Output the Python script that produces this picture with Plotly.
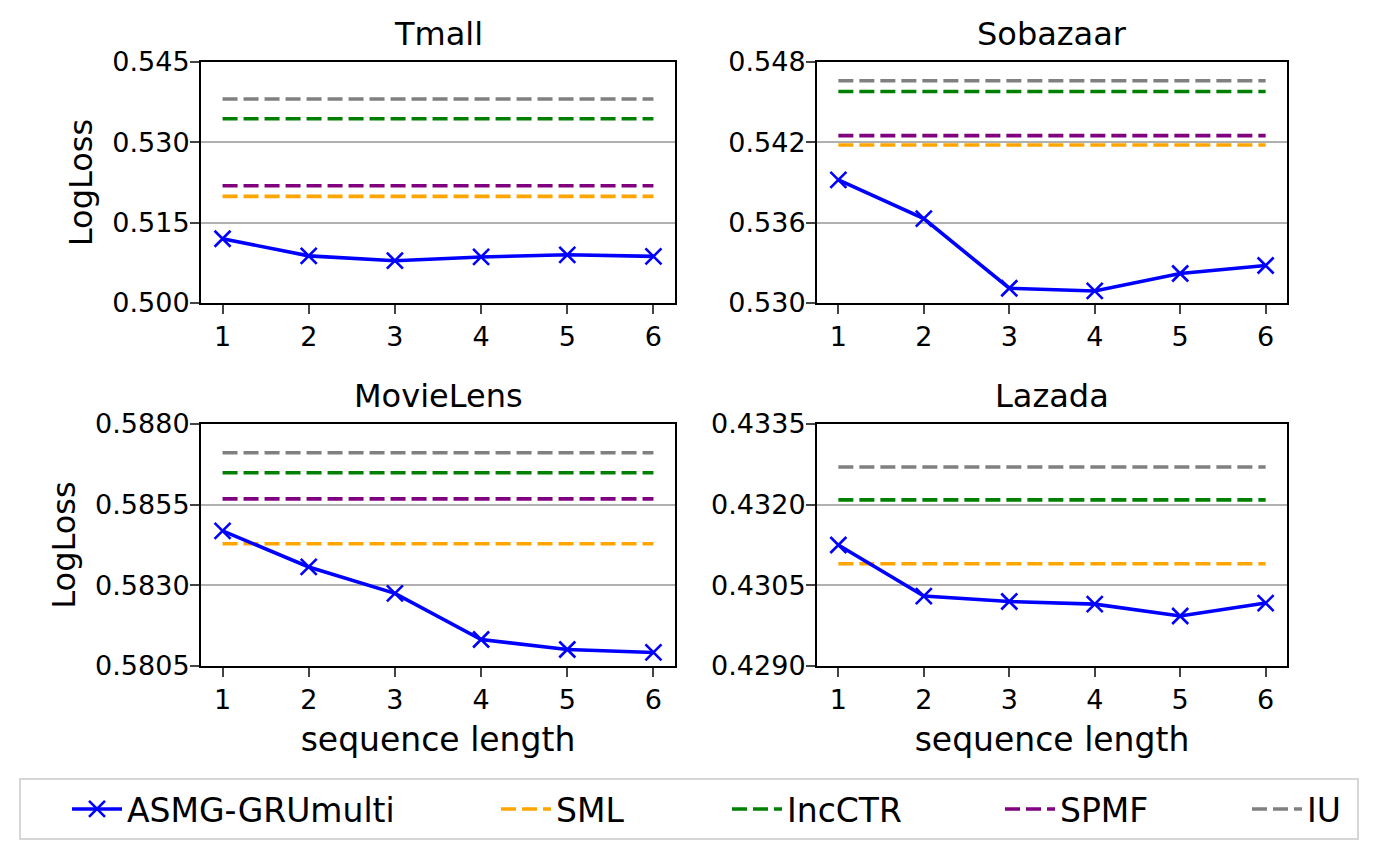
import plotly.graph_objects as go

seq_len = [1, 2, 3, 4, 5, 6]
datasets = ["Tmall", "Sobazaar", "MovieLens", "Lazada"]
series_names = ["ASMG-GRUmulti", "SML", "IncCTR", "SPMF", "IU"]
colors = ["blue", "orange", "green", "purple", "gray"]

# ASMG-GRUmulti LogLoss per dataset
asmg_tmall = [0.5120, 0.5088, 0.5079, 0.5086, 0.5090, 0.5087]
asmg_sobazaar = [0.5392, 0.5363, 0.5311, 0.5309, 0.5322, 0.5328]
asmg_movielens = [0.58469, 0.58357, 0.58275, 0.58132, 0.58101, 0.58092]
asmg_lazada = [0.43125, 0.43030, 0.43020, 0.43015, 0.42993, 0.43017]

# baselines (constant over sequence length): SML, IncCTR, SPMF, IU
base_tmall = [0.5199, 0.5344, 0.5219, 0.5381]
base_sobazaar = [0.5418, 0.5458, 0.5425, 0.5466]
base_movielens = [0.58429, 0.58649, 0.58568, 0.58711]
base_lazada = [0.4309, 0.43209, 0.43400, 0.43270]

y_ticks = {
    "Tmall": [0.500, 0.515, 0.530, 0.545],
    "Sobazaar": [0.530, 0.536, 0.542, 0.548],
    "MovieLens": [0.5805, 0.5830, 0.5855, 0.5880],
    "Lazada": [0.4290, 0.4305, 0.4320, 0.4335],
}
tick_fmt = {"Tmall": ".3f", "Sobazaar": ".3f", "MovieLens": ".4f", "Lazada": ".4f"}

asmg = {"Tmall": asmg_tmall, "Sobazaar": asmg_sobazaar,
        "MovieLens": asmg_movielens, "Lazada": asmg_lazada}
base = {"Tmall": base_tmall, "Sobazaar": base_sobazaar,
        "MovieLens": base_movielens, "Lazada": base_lazada}

W, H = 1378, 859
OFF = 8  # page body margin
FONT = "DejaVu Sans"


def px(v):
    return (v - OFF) / W


def py(v):
    return 1 - (v - OFF) / H


# pixel layout of panels (left, right, top, bottom)
panels = {
    "Tmall": (201, 675, 62, 303),
    "Sobazaar": (817, 1287, 62, 303),
    "MovieLens": (201, 675, 424, 666),
    "Lazada": (817, 1287, 424, 666),
}

fig = go.Figure()
layout = dict(
    width=W, height=H, template="none",
    margin=dict(l=0, r=0, t=0, b=0),
    paper_bgcolor="white", plot_bgcolor="white",
    font=dict(family=FONT, color="black"),
    showlegend=True,
)
annotations = []
shapes = []

for i, name in enumerate(datasets):
    l, r, t, b = panels[name]
    sfx = "" if i == 0 else str(i + 1)
    xa, ya = "x" + sfx, "y" + sfx
    for j in range(4):
        fig.add_trace(go.Scatter(
            x=seq_len, y=[base[name][j]] * len(seq_len),
            mode="lines", name=series_names[j + 1],
            line=dict(color=colors[j + 1], width=3.6, dash="15px,6px"),
            xaxis=xa, yaxis=ya, showlegend=(i == 0),
            legend="legend" + str(j + 2),
        ))
    fig.add_trace(go.Scatter(
        x=seq_len, y=asmg[name], mode="lines+markers", name=series_names[0],
        line=dict(color="blue", width=3.6),
        marker=dict(symbol="x-thin", size=16, line=dict(color="blue", width=2.6)),
        xaxis=xa, yaxis=ya, showlegend=(i == 0), legend="legend",
    ))
    yt = y_ticks[name]
    bottom_row = name in ("MovieLens", "Lazada")
    left_col = name in ("Tmall", "MovieLens")
    layout["xaxis" + sfx] = dict(
        domain=[px(l), px(r)], anchor=ya, range=[0.75, 6.25],
        tickvals=seq_len, ticks="outside", ticklen=9, tickwidth=1.8,
        showline=True, mirror=True, linecolor="black", linewidth=2,
        showgrid=False, zeroline=False, automargin=False,
        tickfont=dict(size=27, family=FONT),
        title=dict(text="sequence length" if bottom_row else "",
                   font=dict(size=33, family=FONT), standoff=13),
    )
    layout["yaxis" + sfx] = dict(
        domain=[py(b), py(t)], anchor=xa, range=[yt[0], yt[-1]],
        tickvals=yt, tickformat=tick_fmt[name], ticks="outside", ticklen=9,
        tickwidth=1.8, showline=True, mirror=True, linecolor="black",
        linewidth=2, showgrid=True, gridcolor="#b0b0b0", gridwidth=1.5,
        zeroline=False, automargin=False, ticklabelstandoff=-5,
        tickfont=dict(size=27, family=FONT),
        title=dict(text="LogLoss" if left_col else "",
                   font=dict(size=32, family=FONT), standoff=10),
    )
    annotations.append(dict(
        text=name, xref="paper", yref="paper", x=px((l + r) / 2),
        y=py(t), xanchor="center", yanchor="bottom", yshift=7,
        showarrow=False, font=dict(size=32, family=FONT),
    ))

# legend frame
shapes.append(dict(type="rect", xref="paper", yref="paper",
                   x0=px(20), x1=px(1358), y0=py(839), y1=py(779),
                   line=dict(color="#d6d6d6", width=2), fillcolor="white",
                   layer="below"))

legend_text_x = [127, 556, 787, 1060, 1307]
for k in range(5):
    key = "legend" if k == 0 else "legend" + str(k + 1)
    layout[key] = dict(
        x=px(legend_text_x[k] - 60), xanchor="left",
        y=py(809), yanchor="middle", orientation="h",
        bgcolor="rgba(0,0,0,0)", borderwidth=0, itemwidth=50,
        font=dict(size=33, family=FONT),
    )

layout["annotations"] = annotations
layout["shapes"] = shapes
fig.update_layout(**layout)
fig.write_html("out.html")
